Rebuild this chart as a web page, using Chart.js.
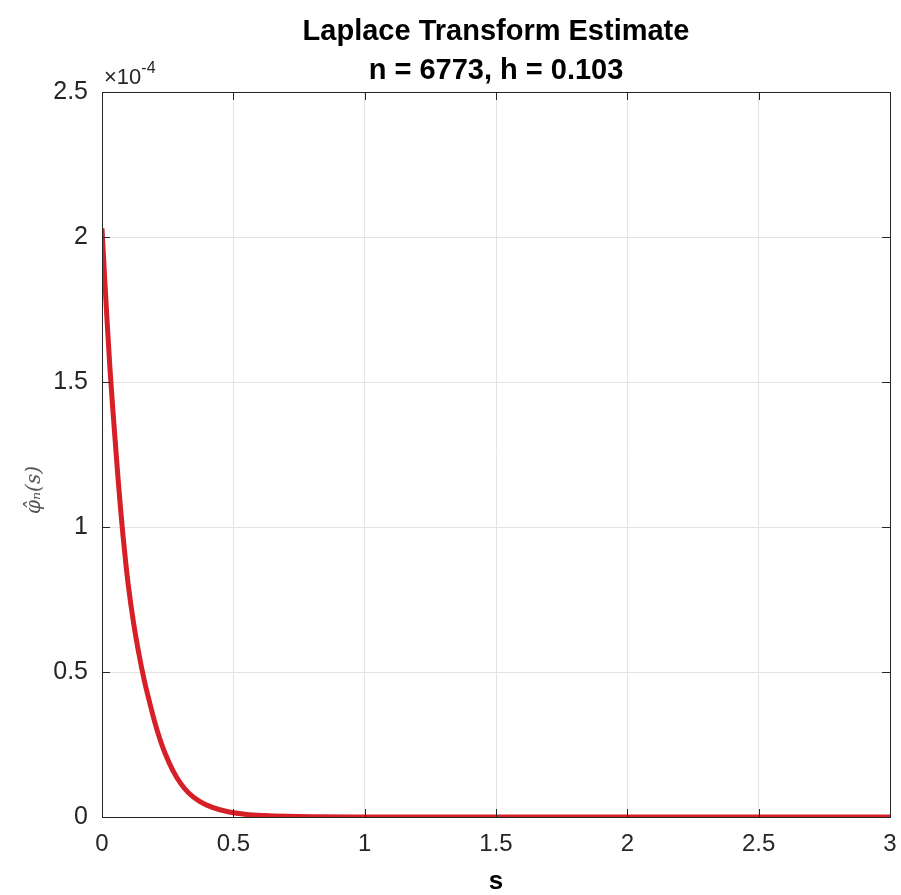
<!DOCTYPE html>
<html>
<head>
<meta charset="utf-8">
<script src="https://cdn.jsdelivr.net/npm/chart.js@4.4.1/dist/chart.umd.min.js"></script>
<style>
  html, body { margin: 0; padding: 0; background: #fff; }
  #wrap { width: 901px; height: 895px; }
</style>
</head>
<body>
<div id="wrap"><canvas id="myChart" width="901" height="895"></canvas></div>
<script>
// s values and estimate values (in units of 1e-4)
const sValues = [0, 0.01, 0.02, 0.03, 0.04, 0.05, 0.06, 0.07, 0.08, 0.09, 0.10,
	0.12, 0.14, 0.16, 0.18, 0.20, 0.22, 0.24, 0.27, 0.30, 0.33, 0.37, 0.42,
	0.48, 0.55, 0.62, 0.70, 0.80, 1.0, 1.5, 2.0, 2.5, 3.0];
const phiValues = [2.03, 1.86, 1.70, 1.55, 1.42, 1.30, 1.18, 1.07, 0.97, 0.88, 0.80,
	0.67, 0.565, 0.475, 0.40, 0.33, 0.27, 0.22, 0.16, 0.115, 0.083, 0.055, 0.033,
	0.018, 0.009, 0.005, 0.0025, 0.001, 0.0003, 0, 0, 0, 0];
const xTicks = [0, 0.5, 1, 1.5, 2, 2.5, 3];
const yTicks = [0, 0.5, 1, 1.5, 2, 2.5];
const yExponent = -4;

const titleLines = ['Laplace Transform Estimate', 'n = 6773, h = 0.103'];
const xLabel = 's';
const yLabel = 'φ̂ₙ(s)';

const FONT = "'Liberation Sans', Arial, Helvetica, sans-serif";
const axisColor = '#262626';

const points = sValues.map((s, i) => ({ x: s, y: phiValues[i] }));

// box around the plot, inward ticks, exponent and y label
const matlabAxes = {
	id: 'matlabAxes',
	afterDraw(chart) {
		const ctx = chart.ctx;
		const a = chart.chartArea;
		const xs = chart.scales.x;
		const ys = chart.scales.y;
		ctx.save();
		ctx.strokeStyle = axisColor;
		ctx.lineWidth = 1;
		ctx.strokeRect(Math.round(a.left) + 0.5, Math.round(a.top) + 0.5,
			Math.round(a.right - a.left), Math.round(a.bottom - a.top));
		ctx.beginPath();
		xTicks.forEach(v => {
			const px = Math.round(xs.getPixelForValue(v)) + 0.5;
			ctx.moveTo(px, a.bottom); ctx.lineTo(px, a.bottom - 8);
			ctx.moveTo(px, a.top); ctx.lineTo(px, a.top + 8);
		});
		yTicks.forEach(v => {
			const py = Math.round(ys.getPixelForValue(v)) + 0.5;
			ctx.moveTo(a.left, py); ctx.lineTo(a.left + 8, py);
			ctx.moveTo(a.right, py); ctx.lineTo(a.right - 8, py);
		});
		ctx.stroke();

		// x10^-4
		ctx.fillStyle = axisColor;
		ctx.textBaseline = 'alphabetic';
		ctx.textAlign = 'left';
		ctx.font = '22px ' + FONT;
		ctx.fillText('×10', a.left + 2, a.top - 8);
		const w = ctx.measureText('×10').width;
		ctx.font = '16px ' + FONT;
		ctx.fillText(String(yExponent), a.left + 2 + w, a.top - 19);

		// y label
		ctx.translate(35, 490);
		ctx.rotate(-Math.PI / 2);
		ctx.textAlign = 'center';
		ctx.textBaseline = 'middle';
		ctx.fillStyle = '#555';
		ctx.font = "italic 20px 'DejaVu Serif', serif";
		ctx.fillText(yLabel, 0, 0);
		ctx.restore();
	}
};

new Chart(document.getElementById('myChart'), {
	type: 'line',
	data: {
		datasets: [{
			data: points,
			borderColor: '#d61f26',
			borderWidth: 5,
			pointRadius: 0,
			fill: false,
			cubicInterpolationMode: 'monotone'
		}]
	},
	options: {
		responsive: false,
		animation: false,
		layout: { padding: { left: 0, right: 11, top: 0, bottom: 0 } },
		plugins: {
			legend: { display: false },
			tooltip: { enabled: false },
			title: {
				display: true,
				fullSize: false,
				text: titleLines,
				color: '#000',
				font: { family: FONT, size: 29, weight: 'bold', lineHeight: 1.345 },
				padding: { top: 12, bottom: 2 }
			}
		},
		scales: {
			x: {
				type: 'linear',
				min: 0,
				max: 3,
				afterBuildTicks: scale => { scale.ticks = xTicks.map(v => ({ value: v })); },
				afterFit: scale => {
					scale.height = 78;
					scale.paddingLeft = 0;
					scale.paddingRight = 0;
				},
				ticks: {
					color: axisColor,
					font: { family: FONT, size: 24 },
					padding: 13,
					maxRotation: 0,
					callback: v => String(v)
				},
				grid: { color: '#e3e3e3', drawTicks: false },
				border: { color: axisColor },
				title: {
					display: true,
					text: xLabel,
					color: '#000',
					font: { family: FONT, size: 26, weight: 'bold', lineHeight: 1.0 },
					padding: { top: 9, bottom: 0 }
				}
			},
			y: {
				min: 0,
				max: 2.5,
				afterBuildTicks: scale => { scale.ticks = yTicks.map(v => ({ value: v })); },
				afterFit: scale => { scale.width = 102; },
				ticks: {
					color: axisColor,
					font: { family: FONT, size: 25 },
					padding: 14,
					callback: v => String(v)
				},
				grid: { color: '#e3e3e3', drawTicks: false },
				border: { color: axisColor }
			}
		}
	},
	plugins: [matlabAxes]
});
</script>
</body>
</html>
